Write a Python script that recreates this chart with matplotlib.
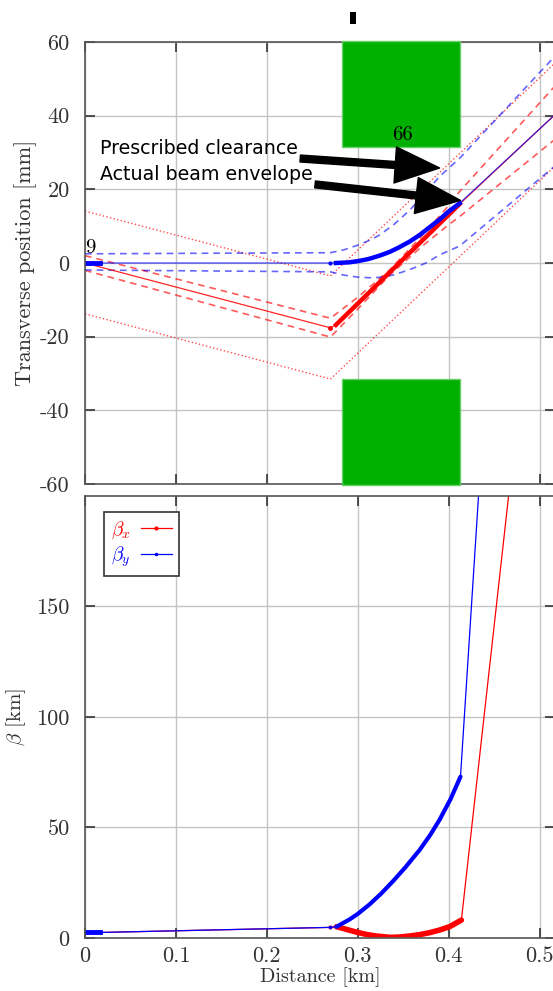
import matplotlib
matplotlib.use("Agg")
import matplotlib.pyplot as plt
from matplotlib.patches import Rectangle

plt.rcParams['font.family'] = 'cmr10'
plt.rcParams['mathtext.fontset'] = 'cm'
plt.rcParams['axes.unicode_minus'] = False
plt.rcParams['axes.formatter.use_mathtext'] = False

# ---- orbit (top panel), distance in km, position in mm ----
x_red = [0.0, 0.27, 0.276, 0.412, 0.52]
y_red = [0.0, -17.6, -16.8, 16.0, 41.0]
x_red_quad = [0.276, 0.412]
y_red_quad = [-16.8, 16.0]

x_blue = [0.0, 0.27, 0.276, 0.29, 0.30, 0.312, 0.324, 0.335, 0.345, 0.357,
          0.368, 0.38, 0.39, 0.40, 0.412, 0.52]
y_blue = [0.0, 0.0, 0.0, 0.17, 0.5, 1.1, 2.0, 3.0, 4.2, 5.8,
          7.6, 9.9, 11.8, 14.0, 16.2, 41.0]
x_blue_quad = x_blue[2:15]
y_blue_quad = y_blue[2:15]
x_start = [0.0, 0.017]
y_start = [0.0, 0.0]

# beam envelope (dashed)
x_env_x = [0.0, 0.27, 0.30, 0.335, 0.37, 0.40, 0.412, 0.52]
env_x_up = [2.0, -15.0, -9.3, -1.9, 7.2, 15.6, 19.4, 48.9]
env_x_lo = [-2.0, -20.1, -12.5, -3.3, 4.4, 10.4, 12.6, 34.2]
x_env_y = [0.0, 0.27, 0.285, 0.302, 0.315, 0.324, 0.34, 0.357, 0.375, 0.39,
           0.412, 0.52]
env_y_up = [2.5, 2.8, 3.6, 5.0, 6.4, 7.6, 10.5, 14.3, 19.2, 23.5,
            28.4, 57.0]
env_y_lo = [-1.9, -2.4, -3.3, -3.9, -4.0, -3.9, -3.2, -1.8, 0.0, 2.2,
            4.6, 27.0]

# prescribed clearance (dotted)
x_clear = [0.0, 0.27, 0.52]
clear_up = [14.1, -3.5, 55.0]
clear_lo = [-13.8, -31.5, 27.0]

# aperture blocks
block_x0, block_x1 = 0.2824, 0.412
block_edge = 31.5

# ---- beta functions (bottom panel), km ----
bx_x = [0.0, 0.017, 0.27, 0.2766, 0.285, 0.291, 0.30, 0.3095, 0.32, 0.335,
        0.345, 0.357, 0.368, 0.379, 0.39, 0.401, 0.414, 0.52]
bx_y = [2.5, 2.5, 4.8, 5.1, 4.2, 3.5, 2.5, 1.6, 0.9, 0.3,
        0.4, 0.9, 1.5, 2.4, 3.6, 5.1, 8.1, 400.0]
bx_quad_x = bx_x[3:17]
bx_quad_y = bx_y[3:17]

by_x = [0.0, 0.017, 0.27, 0.2766, 0.291, 0.30, 0.313, 0.326, 0.339, 0.352,
        0.368, 0.38, 0.39, 0.402, 0.413, 0.45]
by_y = [2.5, 2.5, 4.8, 5.1, 8.4, 10.9, 15.2, 20.2, 25.8, 31.8,
        39.8, 46.8, 53.5, 62.8, 73.0, 310.0]
by_quad_x = by_x[3:15]
by_quad_y = by_y[3:15]

xticks = [0.0, 0.1, 0.2, 0.3, 0.4, 0.5]
xticklabels = ['0', '0.1', '0.2', '0.3', '0.4', '0.5']

fig = plt.figure(figsize=(5.53, 9.91), dpi=100)
ax1 = fig.add_axes([0.1537, 0.5116, 0.85, 0.446])
ax2 = fig.add_axes([0.1537, 0.0535, 0.85, 0.446])

for ax in (ax1, ax2):
    ax.set_xlim(0, 0.517)
    ax.set_xticks(xticks)
    ax.grid(True, color='#c4c4c4', lw=1.0)
    ax.set_axisbelow(True)
    ax.tick_params(direction='in', length=7, width=1.2, color='#333333',
                   top=True, right=True, labelsize=16, labelcolor='#333333')
    ax.tick_params(axis='y', pad=11)
    ax.tick_params(axis='x', pad=6)
    for s in ax.spines.values():
        s.set_color('#555555')
        s.set_linewidth(1.2)

# top panel
ax1.set_ylim(-60, 60)
ax1.set_yticks([60, 40, 20, 0, -20, -40, -60])
ax1.set_xticklabels([])

ax1.plot(x_clear, clear_up, ':', color='red', lw=1.0, alpha=0.7)
ax1.plot(x_clear, clear_lo, ':', color='red', lw=1.0, alpha=0.7)
ax1.plot(x_env_x, env_x_up, '--', color='red', lw=1.2, alpha=0.65, dashes=(4, 3))
ax1.plot(x_env_x, env_x_lo, '--', color='red', lw=1.2, alpha=0.65, dashes=(4, 3))
ax1.plot(x_env_y, env_y_up, '--', color='blue', lw=1.2, alpha=0.6, dashes=(4, 3))
ax1.plot(x_env_y, env_y_lo, '--', color='blue', lw=1.2, alpha=0.6, dashes=(4, 3))

ax1.plot(x_red, y_red, '-', color='red', lw=0.9, alpha=0.85)
ax1.plot(x_red[:2], y_red[:2], '.', color='red', ms=5)
ax1.plot(x_red_quad, y_red_quad, '-', color='red', lw=3.2)
ax1.plot(x_blue, y_blue, '-', color='blue', lw=0.9, alpha=0.7)
ax1.plot(x_blue[:2], y_blue[:2], '.', color='blue', ms=4)
ax1.plot(x_blue_quad, y_blue_quad, '-', color='blue', lw=3.2)
ax1.plot(x_start, y_start, '-', color='blue', lw=3.5)

for y0, y1 in [(block_edge, 60.3), (-60.3, -block_edge)]:
    ax1.add_patch(Rectangle((block_x0, y0), block_x1 - block_x0, y1 - y0,
                            facecolor='#00b000', edgecolor='#66d066', lw=1.0,
                            zorder=4, clip_on=False))
ax1.add_patch(Rectangle((0.291, 64.9), 0.0075, 3.3, facecolor='black',
                        edgecolor='none', clip_on=False))

ax1.text(0.0, 1.5, '9', fontsize=15, ha='left', va='bottom')
ax1.text(0.349, 32.3, '66', fontsize=15, ha='center', va='bottom', zorder=5)

arrow = dict(facecolor='black', edgecolor='black', width=5, headwidth=26,
             headlength=32, shrink=0.0)
ax1.annotate('Prescribed clearance', xy=(0.39, 25.8), xytext=(0.016, 31.0),
             fontsize=13.7, family='DejaVu Sans', va='center',
             arrowprops=arrow, zorder=6)
ax1.annotate('Actual beam envelope', xy=(0.413, 17.0), xytext=(0.016, 24.0),
             fontsize=13.7, family='DejaVu Sans', va='center',
             arrowprops=arrow, zorder=6)
ax1.set_ylabel('Transverse position [mm]', fontsize=16, color='#333333',
               labelpad=2)

# bottom panel
ax2.set_ylim(0, 200)
ax2.set_yticks([0, 50, 100, 150])
ax2.set_xticklabels(xticklabels)
ax2.plot(bx_x, bx_y, '-', color='red', lw=0.9, marker='.', ms=4,
         markevery=[0, 1, 2], label=r'$\beta_x$')
ax2.plot(bx_quad_x, bx_quad_y, '-', color='red', lw=4, solid_capstyle='round')
ax2.plot(by_x, by_y, '-', color='blue', lw=0.9, marker='.', ms=3,
         markevery=[0, 1, 2], label=r'$\beta_y$')
ax2.plot(by_quad_x, by_quad_y, '-', color='blue', lw=3, solid_capstyle='round')
ax2.plot(x_start, [2.5, 2.5], '-', color='blue', lw=3.5)

leg = ax2.legend(loc='upper left', bbox_to_anchor=(0.02, 0.985),
                 markerfirst=False, fontsize=14, fancybox=False,
                 framealpha=1, edgecolor='#333333', handlelength=1.6,
                 borderpad=0.35, labelspacing=0.2, handletextpad=0.5)
leg.get_frame().set_linewidth(1.2)
for txt, c in zip(leg.get_texts(), ['red', 'blue']):
    txt.set_color(c)

ax2.set_ylabel(r'$\beta$ [km]', fontsize=15, color='#333333', labelpad=6)
ax2.set_xlabel('Distance [km]', fontsize=14.5, color='#333333', labelpad=1)

fig.savefig('out.png', dpi=100)
